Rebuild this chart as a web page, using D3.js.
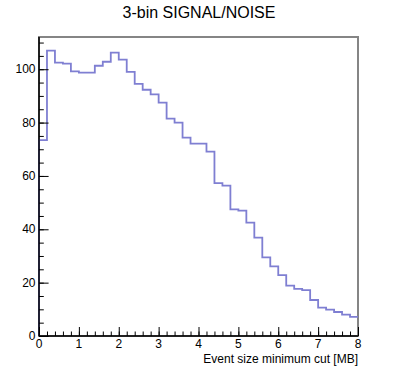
<!DOCTYPE html>
<html>
<head>
<meta charset="utf-8">
<script src="https://cdn.jsdelivr.net/npm/d3@7"></script>
<style>
  body { margin: 0; background: #fff; }
  text { font-family: "Liberation Sans", Arial, sans-serif; fill: #000; }
</style>
</head>
<body>
<div id="chart"></div>
<script>
// histogram: 40 bins of 0.2 MB between 0 and 8
const binWidth = 0.2;
const counts = [73.4, 107.0, 102.5, 102.1, 99.2, 98.7, 98.7, 101.3, 102.8, 106.2,
                103.6, 99.0, 94.5, 92.3, 90.6, 87.5, 81.5, 80.0, 74.4, 72.1,
                72.1, 69.1, 57.3, 56.4, 47.5, 47.0, 42.5, 36.9, 29.5, 26.1,
                22.8, 18.9, 17.7, 17.2, 13.5, 10.6, 9.9, 9.0, 8.0, 7.2];
const xTicks = [0, 1, 2, 3, 4, 5, 6, 7, 8];
const yTicks = [0, 20, 40, 60, 80, 100];
const titleText = "3-bin SIGNAL/NOISE";
const xTitle = "Event size minimum cut [MB]";

const W = 398, H = 375;
const margin = {top: 37, right: 40, bottom: 39, left: 39};

const svg = d3.select("#chart").append("svg")
    .attr("width", W)
    .attr("height", H);

const x = d3.scaleLinear()
    .domain([0, 8])
    .range([margin.left, W - margin.right]);

const y = d3.scaleLinear()
    .domain([0, d3.max(counts) * 1.0475])
    .range([H - margin.bottom, margin.top]);

// frame
svg.append("rect")
    .attr("x", x(0))
    .attr("y", y.range()[1])
    .attr("width", x(8) - x(0))
    .attr("height", y(0) - y.range()[1])
    .attr("fill", "none")
    .attr("stroke", "#858585")
    .attr("stroke-width", 2);

// histogram outline
const pts = [[x(0), y(0)]];
counts.forEach((c, i) => {
  pts.push([x(i * binWidth), y(c)]);
  pts.push([x((i + 1) * binWidth), y(c)]);
});

svg.append("path")
    .datum(pts)
    .attr("d", d3.line())
    .attr("fill", "none")
    .attr("stroke", "#7f7fd2")
    .attr("stroke-width", 1.8);

// axes, ROOT-like ticks drawn inside the frame
const xMinor = d3.range(0, 8.0001, 0.2);
const yMinor = d3.range(0, y.domain()[1], 5);

svg.append("g")
    .attr("transform", "translate(0," + y(0) + ")")
    .call(d3.axisTop(x).tickValues(xMinor).tickSize(4.5).tickFormat(""))
    .call(g => g.select(".domain").remove());

svg.append("g")
    .attr("transform", "translate(0," + y(0) + ")")
    .call(d3.axisTop(x).tickValues(xTicks).tickSize(9).tickFormat(""))
    .call(g => g.select(".domain").remove());

svg.append("g")
    .attr("transform", "translate(" + x(0) + ",0)")
    .call(d3.axisRight(y).tickValues(yMinor).tickSize(4.8).tickFormat(""))
    .call(g => g.select(".domain").remove());

svg.append("g")
    .attr("transform", "translate(" + x(0) + ",0)")
    .call(d3.axisRight(y).tickValues(yTicks).tickSize(9.6).tickFormat(""))
    .call(g => g.select(".domain").remove());

svg.selectAll("g line").attr("stroke", "#000");

// axis lines
svg.append("line")
    .attr("x1", x(0)).attr("x2", x(8))
    .attr("y1", y(0)).attr("y2", y(0))
    .attr("stroke", "#000").attr("stroke-width", 1.5);
svg.append("line")
    .attr("x1", x(0)).attr("x2", x(0))
    .attr("y1", y(0)).attr("y2", y.range()[1])
    .attr("stroke", "#000").attr("stroke-width", 1.5);

// tick labels
svg.selectAll(".xl")
  .data(xTicks)
  .enter().append("text")
    .attr("x", d => x(d))
    .attr("y", y(0) + 12)
    .attr("text-anchor", "middle")
    .style("font-size", "12px")
    .text(d => d);

svg.selectAll(".yl")
  .data(yTicks)
  .enter().append("text")
    .attr("x", x(0) - 3.5)
    .attr("y", d => y(d) + 4.2)
    .attr("text-anchor", "end")
    .style("font-size", "12px")
    .text(d => d);

// titles
svg.append("text")
    .attr("x", 199)
    .attr("y", 18)
    .attr("text-anchor", "middle")
    .style("font-size", "16px")
    .text(titleText);

svg.append("text")
    .attr("x", x(8))
    .attr("y", 362.5)
    .attr("text-anchor", "end")
    .style("font-size", "12px")
    .text(xTitle);
</script>
</body>
</html>
